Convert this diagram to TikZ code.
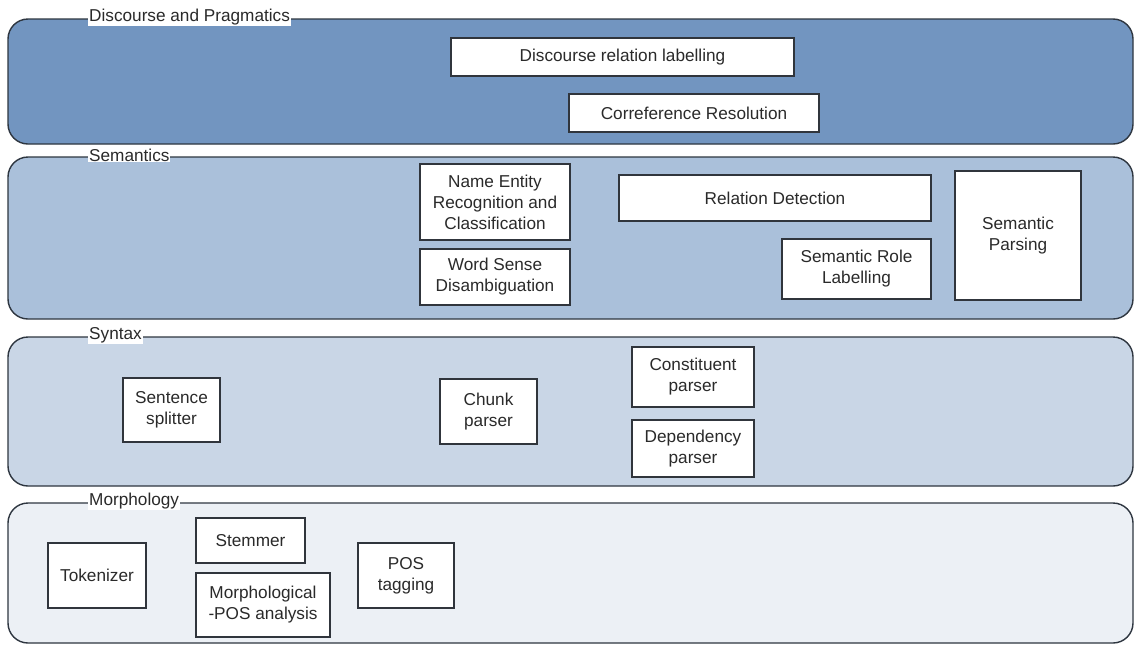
\documentclass[tikz,border=0pt]{standalone}
\usepackage{fontspec}
\setmainfont{Liberation Sans}
\begin{document}
\begin{tikzpicture}[x=1pt,y=-1pt,
  band/.style={draw=bandline, line width=1.4pt, rounded corners=20pt},
  bandlabel/.style={anchor=west, fill=white, inner sep=1pt, text=txt,
    font=\fontsize{17.2}{20}\selectfont},
  box/.style={draw=boxline, fill=white, line width=1.4pt, align=center,
    inner sep=2pt, text=txt, font=\fontsize{17.2}{21}\selectfont}]
\definecolor{bandline}{HTML}{2E3640}
\definecolor{boxline}{HTML}{30353C}
\definecolor{txt}{HTML}{2A2A2A}
\definecolor{discfill}{HTML}{7295C0}
\definecolor{semfill}{HTML}{AAC0DA}
\definecolor{synfill}{HTML}{C9D6E6}
\definecolor{morfill}{HTML}{ECF0F5}
\useasboundingbox (0,0) rectangle (1135,646);
\fill[white] (0,0) rectangle (1135,646);

% layers
\draw[band, fill=discfill] (8,19) rectangle (1133,144);
\draw[band, fill=semfill] (8,157) rectangle (1133,319);
\draw[band, fill=synfill] (8,337) rectangle (1133,486);
\draw[band, fill=morfill] (8,503) rectangle (1133,643);

\node[bandlabel] (lDisc) at (88,17) {Discourse and Pragmatics};
\node[bandlabel] (lSem) at (88,155) {Semantics};
\node[bandlabel] (lSyn) at (88,335) {Syntax};
\node[bandlabel] (lMor) at (88,501) {Morphology};

% discourse and pragmatics
\node[box, minimum width=343pt, minimum height=38pt] (drl) at (622.5,57) {Discourse relation labelling};
\node[box, minimum width=250pt, minimum height=38pt] (cr) at (694,113) {Correference Resolution};

% semantics
\node[box, minimum width=150pt, minimum height=76pt] (ner) at (495,202) {Name Entity\\Recognition and\\Classification};
\node[box, minimum width=150pt, minimum height=56pt] (wsd) at (495,277) {Word Sense\\Disambiguation};
\node[box, minimum width=312pt, minimum height=46pt] (rd) at (775,198) {Relation Detection};
\node[box, minimum width=149pt, minimum height=60pt] (srl) at (856.5,269) {Semantic Role\\Labelling};
\node[box, minimum width=126pt, minimum height=129pt] (sp) at (1018,235.5) {Semantic\\Parsing};

% syntax
\node[box, minimum width=97pt, minimum height=64pt] (ss) at (171.5,410) {Sentence\\splitter};
\node[box, minimum width=97pt, minimum height=65pt] (chunk) at (488.5,411.5) {Chunk\\parser};
\node[box, minimum width=122pt, minimum height=60pt] (const) at (693,377) {Constituent\\parser};
\node[box, minimum width=122pt, minimum height=57pt] (dep) at (693,448.5) {Dependency\\parser};

% morphology
\node[box, minimum width=98pt, minimum height=65pt] (tok) at (97,575.5) {Tokenizer};
\node[box, minimum width=109pt, minimum height=45pt] (stem) at (250.5,540.5) {Stemmer};
\node[box, minimum width=134pt, minimum height=64pt] (morph) at (263,605) {Morphological\\-POS analysis};
\node[box, minimum width=96pt, minimum height=65pt] (pos) at (406,575.5) {POS\\tagging};
\end{tikzpicture}
\end{document}
